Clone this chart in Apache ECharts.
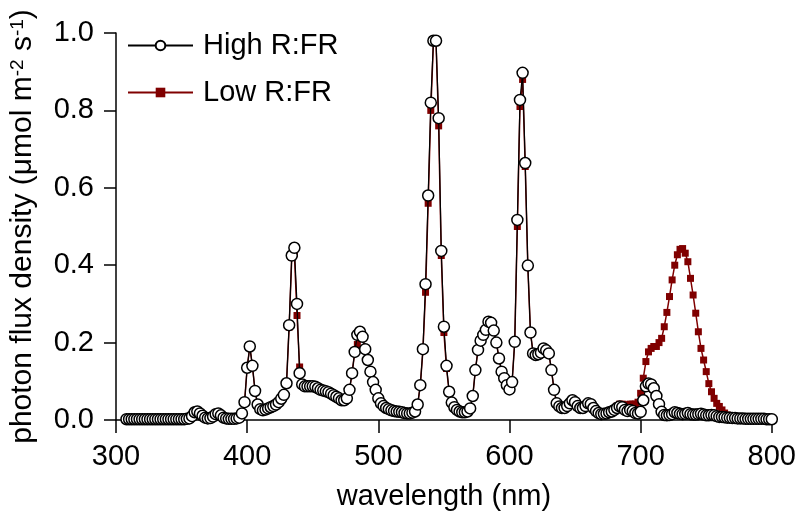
<!DOCTYPE html>
<html>
<head>
<meta charset="utf-8">
<script src="https://cdn.jsdelivr.net/npm/echarts@6/dist/echarts.min.js"></script>
<style>
    html, body { margin: 0; padding: 0; background: #fff; }
    #chartBox { width: 799px; height: 516px; }
</style>
</head>
<body>
<div id="chartBox"></div>
<script>
// wavelength grid of the spectrometer, 308 .. 800 nm every 2 nm
const wavelengths = [];
for (let w = 308; w <= 800; w += 2) wavelengths.push(w);

const xTicks = [300, 400, 500, 600, 700, 800];
const yTicks = [0.0, 0.2, 0.4, 0.6, 0.8, 1.0];

// photon flux density (umol m-2 s-1)
const highRFR = [
    0.002, 0.002, 0.002, 0.002, 0.002, 0.002, 0.002, 0.002, 0.002, 0.002, // 308-326
    0.002, 0.002, 0.002, 0.002, 0.002, 0.002, 0.002, 0.002, 0.002, 0.002, // 328-346
    0.002, 0.002, 0.002, 0.003, 0.004, 0.010, 0.020, 0.022, 0.017, 0.011, // 348-366
    0.006, 0.004, 0.005, 0.009, 0.015, 0.017, 0.012, 0.006, 0.004, 0.003, // 368-386
    0.003, 0.003, 0.004, 0.006, 0.017, 0.046, 0.135, 0.190, 0.140, 0.075, // 388-406
    0.040, 0.028, 0.025, 0.027, 0.030, 0.033, 0.036, 0.040, 0.046, 0.055, // 408-426
    0.065, 0.095, 0.245, 0.425, 0.445, 0.300, 0.121, 0.092, 0.087, 0.087, // 428-446
    0.087, 0.087, 0.086, 0.082, 0.078, 0.076, 0.074, 0.072, 0.068, 0.064, // 448-466
    0.060, 0.056, 0.051, 0.051, 0.056, 0.078, 0.121, 0.176, 0.220, 0.228, // 468-486
    0.215, 0.183, 0.155, 0.125, 0.098, 0.078, 0.056, 0.043, 0.036, 0.031, // 488-506
    0.028, 0.025, 0.023, 0.022, 0.021, 0.020, 0.018, 0.017, 0.017, 0.019, // 508-526
    0.022, 0.040, 0.090, 0.183, 0.351, 0.580, 0.820, 0.980, 0.980, 0.780, // 528-546
    0.437, 0.241, 0.140, 0.073, 0.045, 0.033, 0.026, 0.022, 0.020, 0.020, // 548-566
    0.022, 0.030, 0.062, 0.129, 0.181, 0.205, 0.220, 0.233, 0.254, 0.251, // 568-586
    0.231, 0.200, 0.159, 0.125, 0.108, 0.090, 0.079, 0.098, 0.202, 0.517, // 588-606
    0.827, 0.897, 0.664, 0.399, 0.226, 0.172, 0.168, 0.170, 0.174, 0.185, // 608-626
    0.180, 0.172, 0.129, 0.078, 0.043, 0.035, 0.031, 0.031, 0.036, 0.043, // 628-646
    0.051, 0.046, 0.036, 0.031, 0.031, 0.036, 0.043, 0.041, 0.031, 0.023, // 648-666
    0.018, 0.015, 0.016, 0.017, 0.020, 0.022, 0.026, 0.031, 0.035, 0.033, // 668-686
    0.026, 0.023, 0.026, 0.023, 0.018, 0.017, 0.021, 0.051, 0.087, 0.094, // 688-706
    0.092, 0.082, 0.062, 0.041, 0.021, 0.013, 0.012, 0.013, 0.015, 0.020, // 708-726
    0.018, 0.016, 0.015, 0.016, 0.018, 0.015, 0.014, 0.014, 0.015, 0.016, // 728-746
    0.014, 0.012, 0.012, 0.013, 0.012, 0.010, 0.008, 0.008, 0.007, 0.006, // 748-766
    0.006, 0.005, 0.005, 0.004, 0.004, 0.004, 0.003, 0.003, 0.003, 0.003, // 768-786
    0.003, 0.003, 0.003, 0.003, 0.002, 0.002, 0.002                       // 788-800
];

const lowRFR = [
    0.002, 0.002, 0.002, 0.002, 0.002, 0.002, 0.002, 0.002, 0.002, 0.002, // 308-326
    0.002, 0.002, 0.002, 0.002, 0.002, 0.002, 0.002, 0.002, 0.002, 0.002, // 328-346
    0.002, 0.002, 0.002, 0.003, 0.004, 0.010, 0.020, 0.022, 0.017, 0.011, // 348-366
    0.006, 0.004, 0.005, 0.009, 0.015, 0.017, 0.012, 0.006, 0.004, 0.003, // 368-386
    0.003, 0.003, 0.004, 0.006, 0.017, 0.046, 0.135, 0.190, 0.140, 0.075, // 388-406
    0.040, 0.028, 0.025, 0.027, 0.030, 0.033, 0.036, 0.040, 0.046, 0.055, // 408-426
    0.065, 0.095, 0.240, 0.420, 0.430, 0.270, 0.137, 0.092, 0.087, 0.087, // 428-446
    0.087, 0.087, 0.086, 0.082, 0.078, 0.076, 0.074, 0.072, 0.068, 0.064, // 448-466
    0.060, 0.056, 0.051, 0.051, 0.056, 0.078, 0.121, 0.174, 0.195, 0.215, // 468-486
    0.215, 0.183, 0.155, 0.125, 0.098, 0.078, 0.056, 0.043, 0.036, 0.031, // 488-506
    0.028, 0.025, 0.023, 0.022, 0.021, 0.020, 0.018, 0.017, 0.017, 0.019, // 508-526
    0.022, 0.040, 0.090, 0.180, 0.330, 0.560, 0.800, 0.975, 0.975, 0.760, // 528-546
    0.425, 0.226, 0.133, 0.073, 0.045, 0.033, 0.026, 0.022, 0.020, 0.020, // 548-566
    0.022, 0.030, 0.062, 0.129, 0.181, 0.205, 0.220, 0.233, 0.254, 0.251, // 568-586
    0.231, 0.200, 0.159, 0.125, 0.108, 0.090, 0.079, 0.098, 0.202, 0.500, // 588-606
    0.810, 0.880, 0.655, 0.395, 0.226, 0.172, 0.168, 0.170, 0.174, 0.185, // 608-626
    0.180, 0.172, 0.129, 0.078, 0.043, 0.035, 0.031, 0.031, 0.036, 0.043, // 628-646
    0.051, 0.046, 0.036, 0.031, 0.031, 0.036, 0.043, 0.041, 0.031, 0.023, // 648-666
    0.018, 0.015, 0.016, 0.017, 0.020, 0.025, 0.029, 0.036, 0.041, 0.041, // 668-686
    0.039, 0.039, 0.041, 0.041, 0.041, 0.046, 0.069, 0.108, 0.151, 0.176, // 688-706
    0.185, 0.190, 0.190, 0.200, 0.211, 0.241, 0.278, 0.319, 0.362, 0.400, // 708-726
    0.427, 0.441, 0.443, 0.431, 0.409, 0.366, 0.323, 0.276, 0.228, 0.185, // 728-746
    0.155, 0.125, 0.094, 0.073, 0.056, 0.043, 0.035, 0.026, 0.018, 0.013, // 748-766
    0.010, 0.007, 0.005, 0.004, 0.004, 0.003, 0.003, 0.003, 0.003, 0.003, // 768-786
    0.003, 0.003, 0.003, 0.003, 0.002, 0.002, 0.002                       // 788-800
];

const seriesNames = ['High R:FR', 'Low R:FR'];

const FONT = 'Liberation Sans, Arial, Helvetica, sans-serif';
const chartDom = document.getElementById('chartBox');
const myChart = echarts.init(chartDom, null, { renderer: 'canvas' });

const option = {
    animation: false,
    backgroundColor: '#fff',
    textStyle: { fontFamily: FONT, color: '#000' },
    grid: {
        left: 116,
        right: 26,
        top: 33,
        bottom: 96,
        containLabel: false
    },
    legend: {
        data: seriesNames,
        orient: 'vertical',
        left: 122,
        top: 26,
        itemWidth: 65,
        itemHeight: 12,
        itemGap: 18,
        textStyle: {
            fontFamily: FONT,
            fontSize: 29,
            color: '#000',
            padding: [0, 0, 0, 5]
        }
    },
    xAxis: {
        type: 'value',
        min: xTicks[0],
        max: xTicks[xTicks.length - 1],
        interval: 100,
        name: 'wavelength (nm)',
        nameLocation: 'middle',
        nameGap: 62,
        nameTextStyle: { fontFamily: FONT, fontSize: 29, color: '#000' },
        splitLine: { show: false },
        axisLine: { onZero: false, lineStyle: { color: '#000', width: 1.5 } },
        axisTick: { show: true, inside: false, length: 13, lineStyle: { color: '#000', width: 1.5 } },
        axisLabel: { margin: 22, fontFamily: FONT, fontSize: 29, color: '#000' }
    },
    yAxis: {
        type: 'value',
        min: yTicks[0],
        max: yTicks[yTicks.length - 1],
        interval: 0.2,
        name: '{a|photon flux density (μmol m}{s|-2}{a| s}{s|-1}{a|)}',
        nameLocation: 'middle',
        nameRotate: 90,
        nameGap: 78,
        nameTextStyle: {
            fontFamily: FONT,
            color: '#000',
            rich: {
                a: { fontFamily: FONT, fontSize: 30, color: '#000' },
                s: { fontFamily: FONT, fontSize: 19, color: '#000', verticalAlign: 'top' }
            }
        },
        splitLine: { show: false },
        axisLine: { show: true, lineStyle: { color: '#000', width: 1.5 } },
        axisTick: { show: true, inside: false, length: 12, lineStyle: { color: '#000', width: 1.5 } },
        axisLabel: {
            margin: 22,
            fontFamily: FONT,
            fontSize: 29,
            color: '#000',
            formatter: function (v) { return v.toFixed(1); }
        }
    },
    series: [
        {
            name: seriesNames[0],
            type: 'line',
            z: 3,
            symbol: 'circle',
            symbolSize: 11,
            showSymbol: true,
            showAllSymbol: true,
            itemStyle: { color: '#fff', borderColor: '#000', borderWidth: 1.5 },
            lineStyle: { color: '#000', width: 1.2 },
            emphasis: { disabled: true },
            data: wavelengths.map((w, i) => [w, highRFR[i]])
        },
        {
            name: seriesNames[1],
            type: 'line',
            z: 2,
            symbol: 'rect',
            symbolSize: 7,
            showSymbol: true,
            showAllSymbol: true,
            itemStyle: { color: '#800000', borderWidth: 0 },
            lineStyle: { color: '#800000', width: 1.5 },
            emphasis: { disabled: true },
            data: wavelengths.map((w, i) => [w, lowRFR[i]])
        }
    ]
};

myChart.setOption(option);
</script>
</body>
</html>
